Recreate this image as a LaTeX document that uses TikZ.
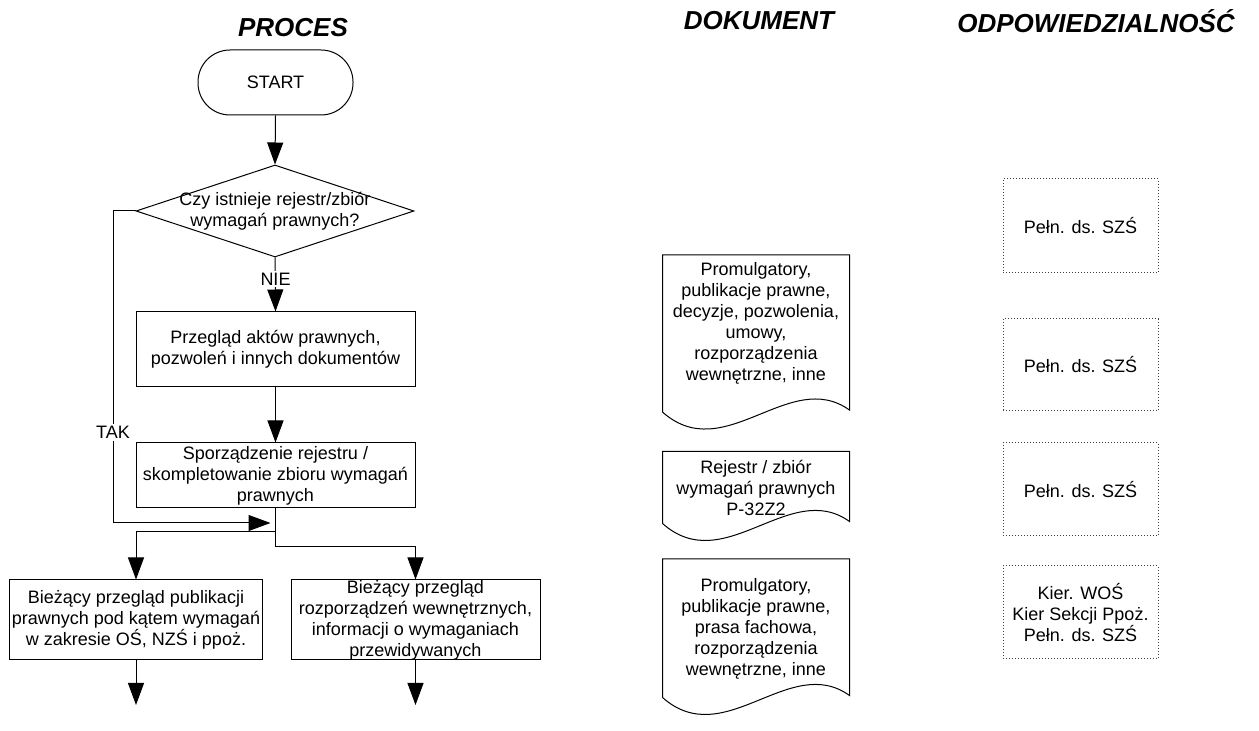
\documentclass[tikz,border=0pt]{standalone}
\usepackage{fontspec}
\setmainfont{Liberation Sans}
\usetikzlibrary{shapes.geometric, arrows.meta}

\newcommand{\docframe}[2][0pt]{%
  \draw[docline] ([yshift=-#1]#2.south west) -- (#2.north west) -- (#2.north east)
    -- ([yshift=-#1+1pt]#2.south east) .. controls +(-60,-43) and +(62,55) .. ([yshift=-#1]#2.south west);}

\begin{document}
\begin{tikzpicture}[x=0.5pt,y=-0.5pt,
    txt/.style={font=\fontsize{9}{10.5}\selectfont, align=center},
    title/.style={font=\fontsize{13}{15}\selectfont\bfseries\itshape},
    terminal/.style={txt,draw,rectangle,rounded corners=16pt,minimum width=77.5pt,minimum height=32.5pt},
    decision/.style={txt,draw,diamond,shape aspect=3,inner sep=-6pt,minimum width=139pt,minimum height=46pt},
    process/.style={txt,draw,rectangle,inner xsep=1pt,inner ysep=1pt},
    document/.style={txt,rectangle,minimum width=93pt},
    docline/.style={line width=0.5pt},
    resp/.style={txt,draw=black!75,densely dotted,rectangle,minimum width=77.5pt},
    lbl/.style={font=\fontsize{9}{10.5}\selectfont,fill=white,inner sep=1pt},
    flow/.style={line width=0.5pt,-{Triangle[length=11pt,width=8pt]}},
    every path/.style={line width=0.5pt}]

	\useasboundingbox (0,0) rectangle (1259,731);

	% column titles
	\node[title] (tproc) at (293,28) {PROCES};
	\node[title] (tdok)  at (759,21) {DOKUMENT};
	\node[title] (todp)  at (1096,21) {ODPOWIEDZIALNOŚĆ};

	% process
	\node[terminal] (start) at (275.5,82.5) {START};
	\node[decision] (czy) at (275,211) {Czy istnieje rejestr/zbiór\\wymagań prawnych?};
	\node[process,minimum width=139.5pt,minimum height=37.5pt] (przeglad) at (275.5,349.5)
		{Przegląd aktów prawnych,\\pozwoleń i innych dokumentów};
	\node[process,minimum width=139.5pt,minimum height=32.5pt] (rejestr) at (275.5,475.5)
		{Sporządzenie rejestru /\\skompletowanie zbioru wymagań\\prawnych};
	\node[process,minimum width=124pt,minimum height=40pt] (biezl) at (136,620)
		{Bieżący przegląd publikacji\\prawnych pod kątem wymagań\\w zakresie OŚ, NZŚ i ppoż.};
	\node[process,inner ysep=0pt,minimum width=124.5pt,minimum height=40pt] (biezp) at (415.5,620)
		{Bieżący przegląd\\rozporządzeń wewnętrznych,\\informacji o wymaganiach\\przewidywanych};

	\coordinate (takr) at (113,211);
	\coordinate (takd) at (113,523);
	\coordinate (takj) at (275.5,523);
	\coordinate (splitl) at (275.5,532);
	\coordinate (splitp) at (275.5,547);
	\coordinate (endl) at (136,705);
	\coordinate (endp) at (415.5,705);

	\draw[flow] (start.south) -- (czy.north);
	\draw[flow] (czy.south) -- (przeglad.north);
	\node[lbl] (nie) at (275.5,279) {NIE};
	\draw[flow] (przeglad.south) -- (rejestr.north);
	\draw[flow,shorten >=2.5pt] (czy.west) -- (takr) -- node[lbl,pos=0.71] {TAK} (takd) -- (takj);
	\draw (rejestr.south) -- (splitp);
	\draw[flow] (splitl) -| (biezl.north);
	\draw[flow] (splitp) -| (biezp.north);
	\draw[flow] (biezl.south) -- (endl);
	\draw[flow] (biezp.south) -- (endp);

	% documents
	\node[document,minimum height=66pt] (dok1) at (756,323)
		{Promulgatory,\\publikacje prawne,\\decyzje, pozwolenia,\\umowy,\\rozporządzenia\\wewnętrzne, inne};
	\node[document,minimum height=35.5pt] (dok2) at (756,487.5)
		{Rejestr / zbiór\\wymagań prawnych\\P-32Z2};
	\node[document,minimum height=69.5pt] (dok3) at (756,629)
		{Promulgatory,\\publikacje prawne,\\prasa fachowa,\\rozporządzenia\\wewnętrzne, inne};
	\docframe[10.5pt]{dok1}
	\docframe{dok2}
	\docframe[-0.75pt]{dok3}

	% responsibility
	\node[resp,minimum height=47pt] (odp1) at (1080.5,226) {Pełn. ds. SZŚ};
	\node[resp,minimum height=46pt] (odp2) at (1080.5,365) {Pełn. ds. SZŚ};
	\node[resp,minimum height=46.5pt] (odp3) at (1080.5,489.5) {Pełn. ds. SZŚ};
	\node[resp,minimum height=46.5pt] (odp4) at (1080.5,612.5) {Kier. WOŚ\\Kier Sekcji Ppoż.\\Pełn. ds. SZŚ};
\end{tikzpicture}
\end{document}
